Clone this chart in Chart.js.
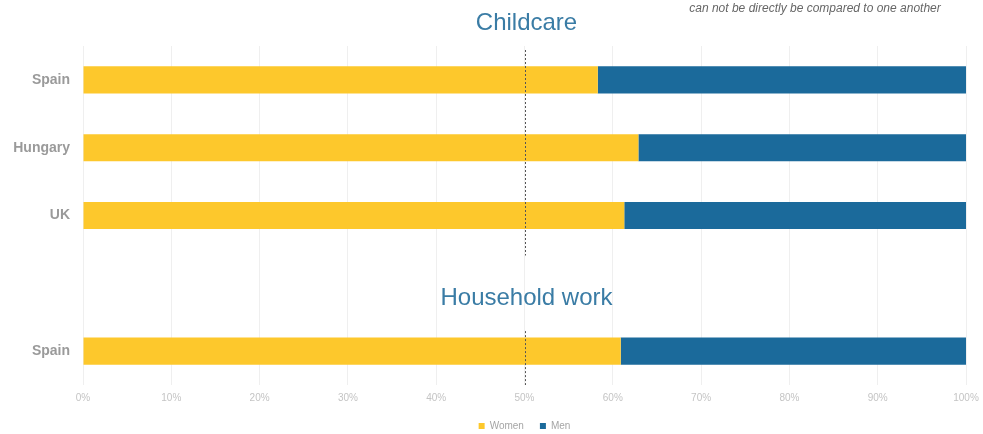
<!DOCTYPE html>
<html lang="en">
<head>
    <meta charset="UTF-8">
    <title>Childcare and household work</title>
    <script src="https://cdn.jsdelivr.net/npm/chart.js@4.4.0/dist/chart.umd.min.js"></script>
    <style>
        * { margin: 0; padding: 0; box-sizing: border-box; }
        body { width: 983px; height: 434px; background: #fff; overflow: hidden; }
        /* a little taller than the window so the legend sits close to the bottom edge */
        #wrap { width: 983px; height: 441px; position: relative; }
    </style>
</head>
<body>
<div id="wrap"><canvas id="chart"></canvas></div>
<script>
    // rows: three countries for childcare, a blank slot for the second heading, then Spain again
    const categories = ['Spain', 'Hungary', 'UK', '', 'Spain']
    const women = [58.3, 62.9, 61.3, null, 60.9]
    const men = [41.7, 37.1, 38.7, null, 39.1]
    const xTicks = [0, 10, 20, 30, 40, 50, 60, 70, 80, 90, 100]

    const YELLOW = '#fdc82c'
    const BLUE = '#1b6a9b'
    const HEAD = '#3a7ca5'

    // headings, the small note and the dashed 50% line
    const overlay = {
        id: 'overlay',
        afterDatasetsDraw(chart) {
            const { ctx, scales: { x, y }, chartArea } = chart
            const mid = Math.round(x.getPixelForValue(50)) + 0.5

            ctx.save()
            ctx.strokeStyle = '#555'
            ctx.lineWidth = 1
            ctx.setLineDash([2, 2])
            ctx.beginPath()
            ctx.moveTo(mid, chartArea.top + 4)
            ctx.lineTo(mid, y.getPixelForValue(2) + 40)
            ctx.moveTo(mid, y.getPixelForValue(4) - 20)
            ctx.lineTo(mid, chartArea.bottom)
            ctx.stroke()
            ctx.setLineDash([])

            ctx.fillStyle = HEAD
            ctx.font = '24px "Liberation Sans", Arial, sans-serif'
            ctx.textAlign = 'center'
            ctx.textBaseline = 'middle'
            ctx.fillText('Childcare', mid + 1, 23)
            ctx.fillText('Household work', mid + 1, y.getPixelForValue(3) + 15)

            ctx.fillStyle = '#666'
            ctx.font = 'italic 12px "Liberation Sans", Arial, sans-serif'
            ctx.fillText('can not be directly be compared to one another', 815, 9)
            ctx.restore()
        }
    }

    new Chart(document.getElementById('chart'), {
        type: 'bar',
        data: {
            labels: categories,
            datasets: [
                { label: 'Women', data: women, backgroundColor: YELLOW },
                { label: 'Men', data: men, backgroundColor: BLUE }
            ]
        },
        options: {
            indexAxis: 'y',
            responsive: true,
            maintainAspectRatio: false,
            animation: false,
            layout: { padding: { top: 46, right: 17, bottom: 0 } },
            datasets: { bar: { categoryPercentage: 1, barPercentage: 0.4 } },
            scales: {
                x: {
                    stacked: true,
                    min: 0,
                    max: 100,
                    afterBuildTicks: s => { s.ticks = xTicks.map(v => ({ value: v })) },
                    afterFit: s => {
                        s.height -= 6
                        s.paddingRight = 0
                    },
                    grid: { color: '#efefef', drawTicks: false },
                    border: { display: false },
                    ticks: {
                        color: '#c4c4c4',
                        padding: 7,
                        font: { family: 'Liberation Sans', size: 10 },
                        callback: v => v + '%'
                    }
                },
                y: {
                    stacked: true,
                    afterFit: s => { s.width = 83 },
                    grid: { display: false, drawTicks: false },
                    border: { display: false },
                    ticks: {
                        color: '#9a9a9a',
                        padding: 13,
                        font: { family: 'Liberation Sans', size: 14, weight: 'bold' }
                    }
                }
            },
            plugins: {
                tooltip: { enabled: false },
                legend: {
                    position: 'bottom',
                    fullSize: false,
                    labels: {
                        color: '#a5a5a5',
                        boxWidth: 6,
                        boxHeight: 6,
                        padding: 16,
                        font: { family: 'Liberation Sans', size: 10 }
                    }
                }
            }
        },
        plugins: [overlay]
    })
</script>
</body>
</html>
